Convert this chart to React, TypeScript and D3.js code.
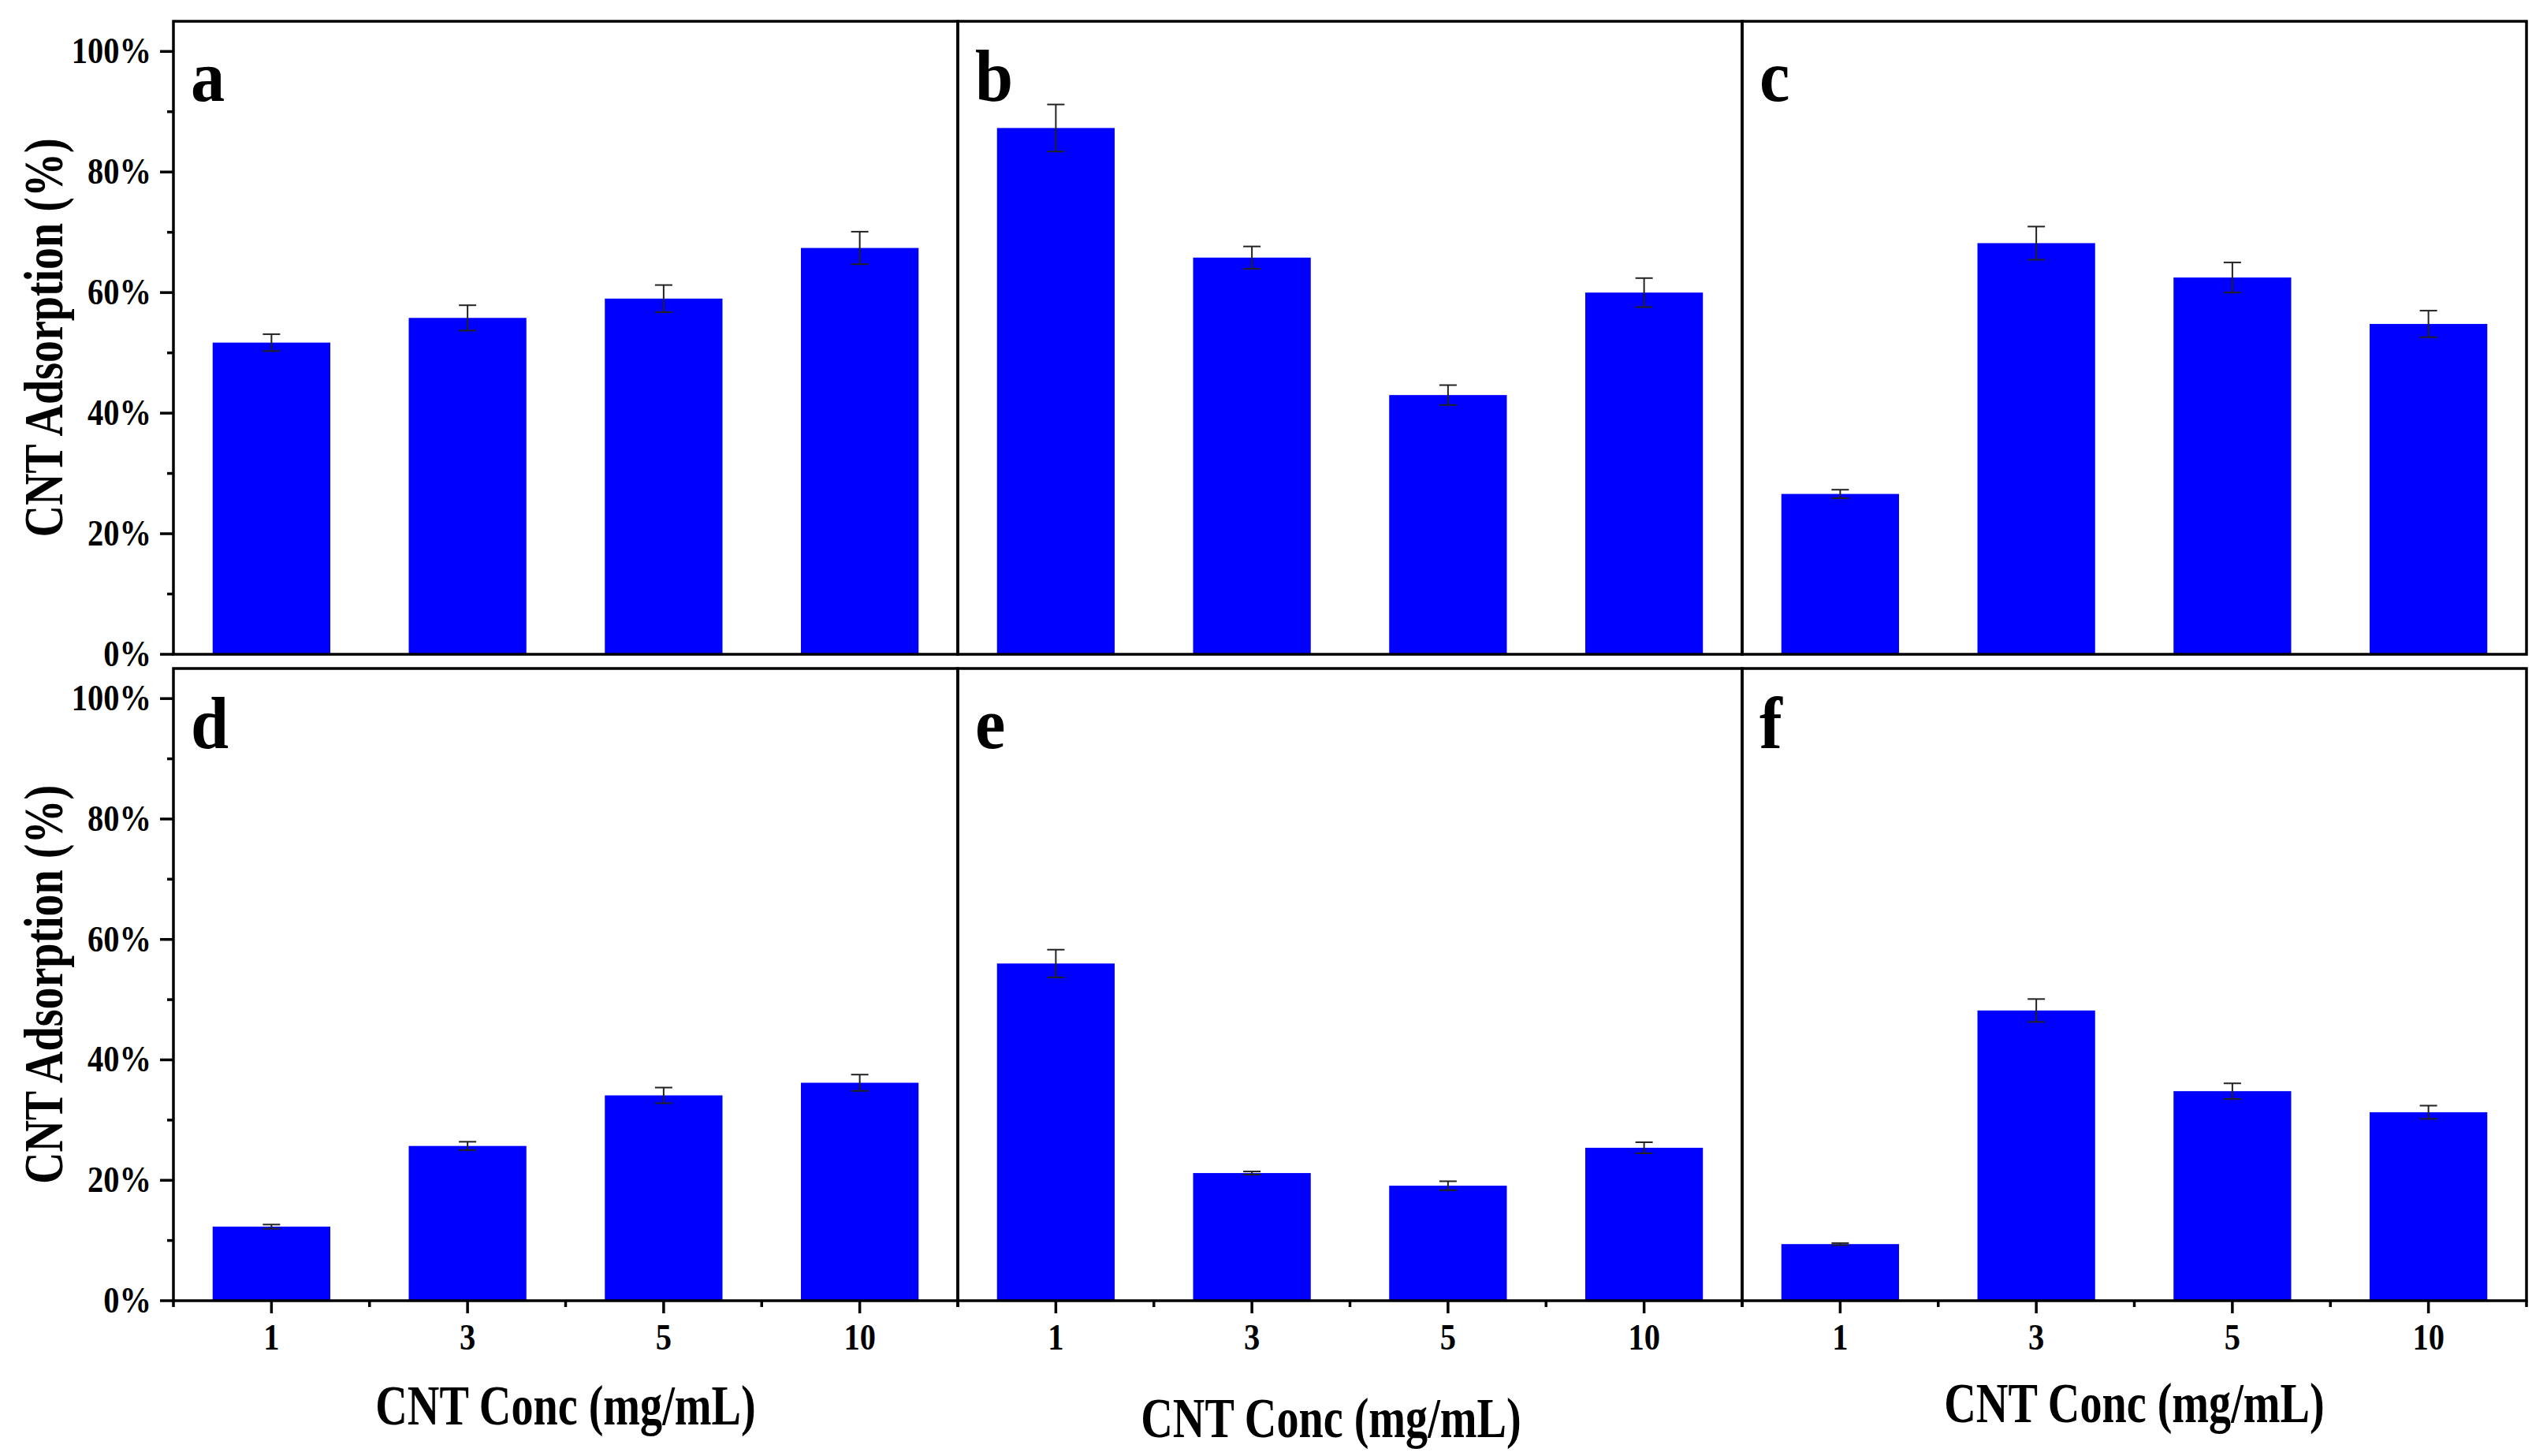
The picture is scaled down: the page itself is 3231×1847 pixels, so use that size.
import * as React from "react";
import * as d3 from "d3";

// concentrations on the x axis (mg/mL)
const categories = ["1", "3", "5", "10"];
const panelLabels = ["a", "b", "c", "d", "e", "f"];

// adsorption (%) and error bar half-widths, per panel
const valuesA = [51.7, 55.8, 59.0, 67.4];
const errorsA = [1.4, 2.1, 2.25, 2.7];
const valuesB = [87.3, 65.8, 43.0, 60.0];
const errorsB = [3.9, 1.85, 1.65, 2.4];
const valuesC = [26.6, 68.2, 62.5, 54.8];
const errorsC = [0.7, 2.75, 2.5, 2.2];
const valuesD = [12.3, 25.7, 34.1, 36.2];
const errorsD = [0.35, 0.7, 1.3, 1.35];
const valuesE = [56.0, 21.2, 19.1, 25.4];
const errorsE = [2.3, 0.26, 0.74, 0.92];
const valuesF = [9.4, 48.2, 34.8, 31.3];
const errorsF = [0.17, 1.9, 1.3, 1.1];

const yMajorTicks = [0, 20, 40, 60, 80, 100];
const yMinorTicks = [10, 30, 50, 70, 90];

const yTitle = "CNT Adsorption (%)";
const xTitle = "CNT Conc (mg/mL)";

const W = 3231;
const H = 1847;
const FONT = "'Liberation Serif', 'Times New Roman', serif";

const panelW = 995;
const colX = [220, 1215, 2210];
const rowY = [
  { top: 27, bottom: 830 },
  { top: 848, bottom: 1650 },
];
// small per-panel offsets of the x title, as in the original figure
const xTitleShift = [
  { dx: 0, dy: 0 },
  { dx: -24, dy: 16 },
  { dx: 0, dy: -3 },
];

const panels = [
  { values: valuesA, errors: errorsA },
  { values: valuesB, errors: errorsB },
  { values: valuesC, errors: errorsC },
  { values: valuesD, errors: errorsD },
  { values: valuesE, errors: errorsE },
  { values: valuesF, errors: errorsF },
];

function Panel({ idx }: { idx: number }) {
  const col = idx % 3;
  const row = Math.floor(idx / 3);
  const x0 = colX[col];
  const { top, bottom } = rowY[row];
  const { values, errors } = panels[idx];

  const x = d3
    .scaleBand<string>()
    .domain(categories)
    .range([x0, x0 + panelW])
    .paddingInner(0.4)
    .paddingOuter(0.2);
  const y = d3.scaleLinear().domain([0, 105]).range([bottom, top]);
  const step = x.step();
  const capW = 22;

  const showY = col === 0;
  const showX = row === 1;

  return (
    <g>
      {values.map((v, i) => {
        const bx = x(categories[i]) ?? 0;
        return (
          <rect key={i} x={bx} y={y(v)} width={x.bandwidth()} height={y(0) - y(v)} fill="#0000ff" />
        );
      })}
      {values.map((v, i) => {
        const cx = (x(categories[i]) ?? 0) + x.bandwidth() / 2;
        const y1 = y(v + errors[i]);
        const y2 = y(v - errors[i]);
        return (
          <g key={i} stroke="#222" strokeWidth={2}>
            <line x1={cx} x2={cx} y1={y1} y2={y2} />
            <line x1={cx - capW / 2} x2={cx + capW / 2} y1={y1} y2={y1} />
            <line x1={cx - capW / 2} x2={cx + capW / 2} y1={y2} y2={y2} />
          </g>
        );
      })}
      <rect x={x0} y={top} width={panelW} height={bottom - top} fill="none" stroke="#000" strokeWidth={3.5} />
      <text
        transform={`translate(${x0 + 22},${top + 101}) scale(0.92,1)`}
        fontFamily={FONT}
        fontWeight="bold"
        fontSize={94}
      >
        {panelLabels[idx]}
      </text>

      {showY && (
        <g stroke="#000" strokeWidth={3.5}>
          {yMajorTicks.map((t) => (
            <line key={t} x1={x0 - 17} x2={x0} y1={y(t)} y2={y(t)} />
          ))}
          {yMinorTicks.map((t) => (
            <line key={t} x1={x0 - 8} x2={x0} y1={y(t)} y2={y(t)} />
          ))}
        </g>
      )}
      {showY &&
        yMajorTicks.map((t) => (
          <text
            key={t}
            transform={`translate(${x0 - 28},${y(t) + 15}) scale(0.88,1)`}
            textAnchor="end"
            fontFamily={FONT}
            fontWeight="bold"
            fontSize={46}
          >
            {t}%
          </text>
        ))}
      {showY && (
        <text
          transform={`translate(79,${(top + bottom) / 2}) rotate(-90) scale(0.8,1)`}
          textAnchor="middle"
          fontFamily={FONT}
          fontWeight="bold"
          fontSize={70}
        >
          {yTitle}
        </text>
      )}

      {showX && (
        <g stroke="#000" strokeWidth={3.5}>
          {categories.map((c) => {
            const cx = (x(c) ?? 0) + x.bandwidth() / 2;
            return <line key={c} x1={cx} x2={cx} y1={bottom} y2={bottom + 16} />;
          })}
          {d3.range(categories.length + 1).map((k) => (
            <line key={k} x1={x0 + k * step} x2={x0 + k * step} y1={bottom} y2={bottom + 8} />
          ))}
        </g>
      )}
      {showX &&
        categories.map((c) => {
          const cx = (x(c) ?? 0) + x.bandwidth() / 2;
          return (
            <text
              key={c}
              transform={`translate(${cx},${bottom + 62}) scale(0.88,1)`}
              textAnchor="middle"
              fontFamily={FONT}
              fontWeight="bold"
              fontSize={46}
            >
              {c}
            </text>
          );
        })}
      {showX && (
        <text
          transform={`translate(${x0 + panelW / 2 + xTitleShift[col].dx},${
            bottom + 157 + xTitleShift[col].dy
          }) scale(0.78,1)`}
          textAnchor="middle"
          fontFamily={FONT}
          fontWeight="bold"
          fontSize={72}
        >
          {xTitle}
        </text>
      )}
    </g>
  );
}

export default function App() {
  return (
    <svg
      width={W}
      height={H}
      viewBox={`0 0 ${W} ${H}`}
      style={{ position: "absolute", left: 0, top: 0, background: "#fff" }}
    >
      <rect width={W} height={H} fill="#fff" />
      {panels.map((_, i) => (
        <Panel key={i} idx={i} />
      ))}
    </svg>
  );
}
